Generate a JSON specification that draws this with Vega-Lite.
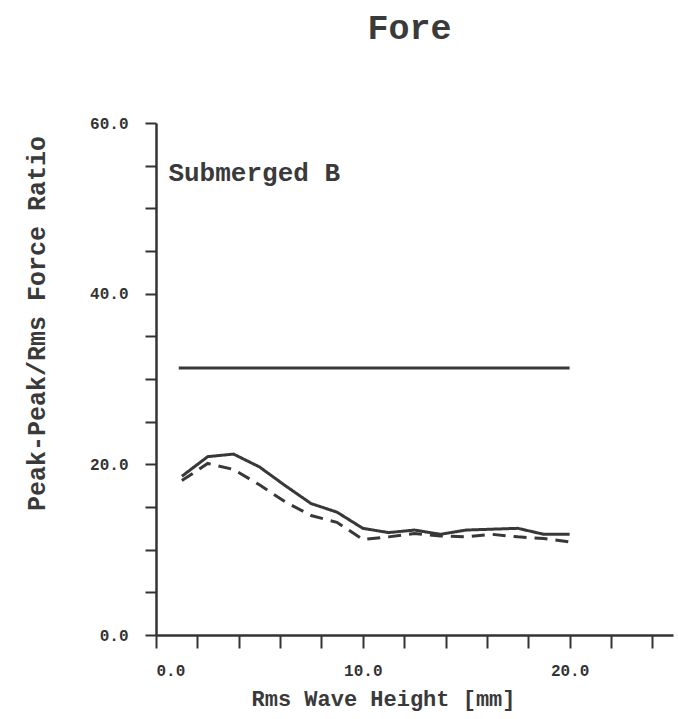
{
  "$schema": "https://vega.github.io/schema/vega-lite/v6.json",
  "autosize": "none",
  "width": 517,
  "height": 512,
  "padding": {"left": 156, "top": 123, "right": 5, "bottom": 84},
  "background": "white",
  "title": {
    "text": "Fore",
    "font": "Liberation Mono",
    "fontWeight": "bold",
    "fontSize": 35,
    "color": "#3a3a3a",
    "anchor": "middle",
    "dx": -5,
    "offset": 69
  },
  "config": {
    "view": {"stroke": null},
    "axis": {
      "grid": false,
      "domainColor": "#333333",
      "domainWidth": 2.5,
      "tickColor": "#333333",
      "tickWidth": 2,
      "labelFont": "Liberation Mono",
      "labelFontWeight": "bold",
      "labelFontSize": 16,
      "labelColor": "#333333",
      "titleFont": "Liberation Mono",
      "titleFontWeight": "bold",
      "titleColor": "#3a3a3a"
    }
  },
  "data": {
    "values": [
      {"x": 1.1, "y": 31.3, "series": "ref"},
      {"x": 20.0, "y": 31.3, "series": "ref"},
      {"x": 1.25, "y": 18.6, "series": "solid"},
      {"x": 2.5, "y": 20.9, "series": "solid"},
      {"x": 3.75, "y": 21.2, "series": "solid"},
      {"x": 5.0, "y": 19.7, "series": "solid"},
      {"x": 6.25, "y": 17.5, "series": "solid"},
      {"x": 7.5, "y": 15.4, "series": "solid"},
      {"x": 8.75, "y": 14.4, "series": "solid"},
      {"x": 10.0, "y": 12.5, "series": "solid"},
      {"x": 11.25, "y": 12.0, "series": "solid"},
      {"x": 12.5, "y": 12.3, "series": "solid"},
      {"x": 13.75, "y": 11.8, "series": "solid"},
      {"x": 15.0, "y": 12.3, "series": "solid"},
      {"x": 16.25, "y": 12.4, "series": "solid"},
      {"x": 17.5, "y": 12.5, "series": "solid"},
      {"x": 18.75, "y": 11.8, "series": "solid"},
      {"x": 20.0, "y": 11.8, "series": "solid"},
      {"x": 1.25, "y": 18.1, "series": "dashed"},
      {"x": 2.5, "y": 20.1, "series": "dashed"},
      {"x": 3.75, "y": 19.4, "series": "dashed"},
      {"x": 5.0, "y": 17.6, "series": "dashed"},
      {"x": 6.25, "y": 15.6, "series": "dashed"},
      {"x": 7.5, "y": 14.0, "series": "dashed"},
      {"x": 8.75, "y": 13.2, "series": "dashed"},
      {"x": 10.0, "y": 11.2, "series": "dashed"},
      {"x": 11.25, "y": 11.5, "series": "dashed"},
      {"x": 12.5, "y": 11.9, "series": "dashed"},
      {"x": 13.75, "y": 11.6, "series": "dashed"},
      {"x": 15.0, "y": 11.5, "series": "dashed"},
      {"x": 16.25, "y": 11.8, "series": "dashed"},
      {"x": 17.5, "y": 11.5, "series": "dashed"},
      {"x": 18.75, "y": 11.3, "series": "dashed"},
      {"x": 20.0, "y": 10.9, "series": "dashed"}
    ]
  },
  "layer": [
    {
      "mark": {"type": "line", "color": "#383838", "strokeWidth": 3},
      "encoding": {
        "x": {
          "field": "x",
          "type": "quantitative",
          "scale": {"domain": [0, 25], "nice": false},
          "axis": {
            "values": [0, 2, 4, 6, 8, 10, 12, 14, 16, 18, 20, 22, 24],
            "labelExpr": "datum.value % 10 == 0 ? format(datum.value, '.1f') : ''",
            "tickSize": 13,
            "labelPadding": 14,
            "title": "Rms Wave Height [mm]",
            "titleFontSize": 22,
            "titleX": 227,
            "titleY": 63,
            "titleAnchor": "middle",
            "titleAlign": "center",
            "titleBaseline": "middle"
          }
        },
        "y": {
          "field": "y",
          "type": "quantitative",
          "scale": {"domain": [0, 60], "nice": false},
          "axis": {
            "values": [0, 5, 10, 15, 20, 25, 30, 35, 40, 45, 50, 55, 60],
            "labelExpr": "datum.value % 20 == 0 ? format(datum.value, '.1f') : ''",
            "tickSize": 11,
            "labelPadding": 17,
            "title": "Peak-Peak/Rms Force Ratio",
            "titleFontSize": 25,
            "titleX": -120,
            "titleY": 200,
            "titleAngle": -90,
            "titleAlign": "center",
            "titleBaseline": "middle"
          }
        },
        "detail": {"field": "series"},
        "strokeDash": {
          "field": "series",
          "type": "nominal",
          "scale": {"domain": ["ref", "solid", "dashed"], "range": [[1, 0], [1, 0], [13, 8]]},
          "legend": null
        }
      }
    },
    {
      "data": {"values": [{"x": 0.6, "y": 54.1, "label": "Submerged B"}]},
      "mark": {
        "type": "text",
        "align": "left",
        "baseline": "middle",
        "font": "Liberation Mono",
        "fontWeight": "bold",
        "fontSize": 26,
        "color": "#3a3a3a"
      },
      "encoding": {
        "x": {"field": "x", "type": "quantitative"},
        "y": {"field": "y", "type": "quantitative"},
        "text": {"field": "label"}
      }
    }
  ]
}
